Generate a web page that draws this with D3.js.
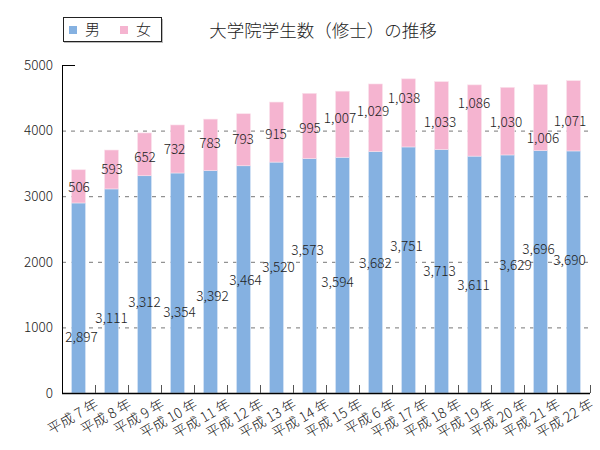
<!DOCTYPE html>
<html><head><meta charset="utf-8">
<script src="https://cdn.jsdelivr.net/npm/d3@7"></script>
<style>body{margin:0;background:#fff}svg{display:block}text{font-family:"Noto Sans CJK JP","Noto Sans",sans-serif;fill:#222;font-weight:300}</style>
</head><body><svg id="c" width="600" height="450"></svg>
<script>
// data
const categories = ["平成 7 年","平成 8 年","平成 9 年","平成 10 年","平成 11 年","平成 12 年","平成 13 年","平成 14 年","平成 15 年","平成 6 年","平成 17 年","平成 18 年","平成 19 年","平成 20 年","平成 21 年","平成 22 年"];
const male   = [2897,3111,3312,3354,3392,3464,3520,3573,3594,3682,3751,3713,3611,3629,3696,3690];
const female = [506,593,652,732,783,793,915,995,1007,1029,1038,1033,1086,1030,1006,1071];
const yTicks = [0,1000,2000,3000,4000,5000];
const seriesNames = ["男","女"];
// label placement (annotation layout, value units / px offsets)
const maleLabelLevel   = [854,1143,1387,1235,1479,1723,1921,2180,1692,1982,2241,1860,1646,1951,2195,2027];
const maleLabelDx      = [3,0,0,2,2,2,2,-2,-5,0,-2,-2,-1,8,-2,-4];
const femaleLabelLevel = [3140,3415,3598,3720,3811,3872,3948,4040,4192,4299,4497,4131,4421,4131,3887,4146];
const femaleLabelDx    = [0.5,0.5,0.5,-3,-0.5,-0.5,-0.5,0.5,-2.5,-2.5,-4.5,-1.5,-0.5,-1.5,2.5,-3.5];

const colors = ["#85b1e1","#f5b4d0"];
const svg = d3.select("#c");
const L=62, R=590, T=65, B=393;
const x = d3.scaleBand().domain(categories).range([L,R]).paddingInner(0.58).paddingOuter(0.29);
const y = d3.scaleLinear().domain([0,5000]).range([B,T]);
const fmt = d3.format(",");

// grid
svg.append("g").selectAll("line").data(yTicks.filter(d=>d>0&&d<5000)).join("line")
  .attr("x1",L).attr("x2",R).attr("y1",d=>y(d)+0.5).attr("y2",d=>y(d)+0.5)
  .attr("stroke","#777").attr("stroke-width",1).attr("stroke-dasharray","4,5");

// bars
const stack = categories.map((c,i)=>({c,m:male[i],f:female[i]}));
svg.append("g").selectAll("rect").data(stack).join("rect")
  .attr("x",d=>x(d.c)).attr("width",x.bandwidth())
  .attr("y",d=>y(d.m)).attr("height",d=>B-y(d.m)).attr("fill",colors[0])
  .attr("stroke","#d6e4f5").attr("stroke-width",0.6);
svg.append("g").selectAll("rect").data(stack).join("rect")
  .attr("x",d=>x(d.c)).attr("width",x.bandwidth())
  .attr("y",d=>y(d.m+d.f)).attr("height",d=>y(d.m)-y(d.m+d.f)).attr("fill",colors[1])
  .attr("stroke","#fbe1ec").attr("stroke-width",0.6);

// axes
svg.append("line").attr("x1",L+0.5).attr("x2",L+0.5).attr("y1",T).attr("y2",B).attr("stroke","#000");
svg.append("line").attr("x1",L).attr("x2",L+13).attr("y1",T+0.5).attr("y2",T+0.5).attr("stroke","#000");
svg.append("line").attr("x1",L).attr("x2",R).attr("y1",B+0.5).attr("y2",B+0.5).attr("stroke","#000").attr("stroke-width",1.3);
const step = x.step();
svg.append("g").selectAll("line").data(categories.slice(1).concat(["__end"])).join("line")
  .attr("x1",(d,i)=>Math.round(L+step*(i+1))+0.5).attr("x2",(d,i)=>Math.round(L+step*(i+1))+0.5)
  .attr("y1",B).attr("y2",B-8).attr("stroke","#555");

// y labels
svg.append("g").selectAll("text").data(yTicks).join("text")
  .attr("x",53).attr("y",d=>y(d)).attr("dy","0.35em").attr("text-anchor","end")
  .attr("font-size",13.5).text(d=>d);

// x labels
svg.append("g").selectAll("text").data(categories).join("text")
  .attr("text-anchor","end").attr("font-size",14)
  .attr("transform",d=>`translate(${x(d)+x.bandwidth()/2+21},${B+14}) rotate(-30)`)
  .text(d=>d);

// value labels
svg.append("g").selectAll("text").data(stack).join("text")
  .attr("x",(d,i)=>x(d.c)+x.bandwidth()/2+maleLabelDx[i]).attr("y",(d,i)=>y(maleLabelLevel[i]))
  .attr("dy","0.35em").attr("text-anchor","middle").attr("font-size",13.5).text(d=>fmt(d.m));
svg.append("g").selectAll("text").data(stack).join("text")
  .attr("x",(d,i)=>x(d.c)+x.bandwidth()/2+femaleLabelDx[i]).attr("y",(d,i)=>y(femaleLabelLevel[i]))
  .attr("dy","0.35em").attr("text-anchor","middle").attr("font-size",13.5).text(d=>fmt(d.f));

// title
svg.append("text").attr("x",323).attr("y",31).attr("dy","0.35em").attr("text-anchor","middle")
  .attr("font-size",17.5).text("大学院学生数（修士）の推移");

// legend
const lg = svg.append("g");
lg.append("rect").attr("x",64).attr("y",19).attr("width",99).attr("height",24).attr("fill","#bbb");
lg.append("rect").attr("x",63.5).attr("y",17.5).attr("width",98).attr("height",24).attr("fill","#fff").attr("stroke","#222");
const lx = [69,120];
seriesNames.forEach((n,i)=>{
  lg.append("rect").attr("x",lx[i]).attr("y",26).attr("width",8).attr("height",8).attr("fill",colors[i]);
  lg.append("text").attr("x",lx[i]+16).attr("y",30).attr("dy","0.35em").attr("font-size",15).text(n);
});
</script></body></html>
